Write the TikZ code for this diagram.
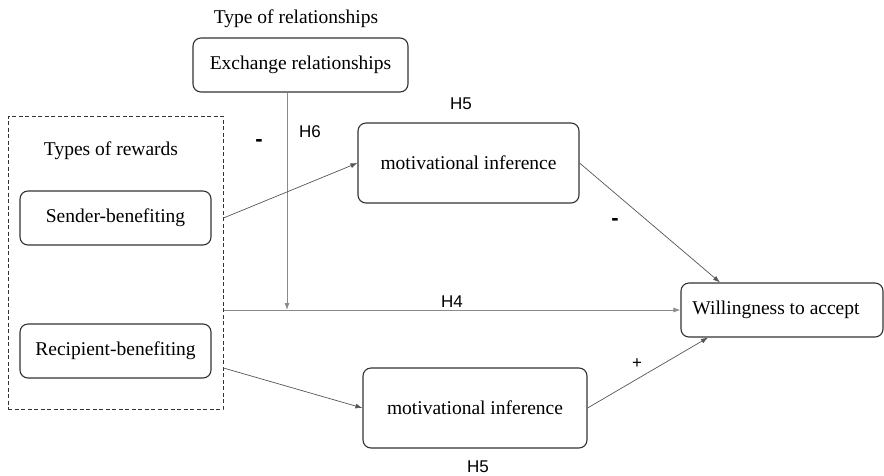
\documentclass[tikz,border=0pt]{standalone}
\usepackage{fontspec}
\setmainfont{Liberation Serif}
\newfontfamily\hfont{Liberation Sans}
\usetikzlibrary{arrows.meta, positioning, calc}
\definecolor{dgInk}{HTML}{333333}
\definecolor{dgLine}{HTML}{555555}
\definecolor{dgGrey}{HTML}{8A8A8A}
\tikzset{
  box/.style={
    draw=dgInk, line width=1.1pt, rounded corners=8pt,
    fill=white, inner sep=0pt, align=center,
    font=\fontsize{19.5}{23}\selectfont, text=black,
    minimum width=191pt, minimum height=54pt
  },
  infbox/.style={box, minimum height=80pt},
  group/.style={draw=dgInk, line width=1pt, dash pattern=on 4pt off 2.5pt,
    minimum width=215pt, minimum height=293pt, inner sep=0pt},
  flow/.style={-{Latex[length=7pt,width=5pt]}, line width=0.7pt, draw=dgLine},
  flowg/.style={-{Latex[length=7pt,width=5pt]}, line width=0.9pt, draw=dgGrey},
  lbl/.style={font=\fontsize{19.5}{23}\selectfont, inner sep=0pt},
  hyp/.style={font=\hfont\fontsize{17}{20}\selectfont, inner sep=0pt},
  sgn/.style={font=\hfont\bfseries\fontsize{22}{24}\selectfont, inner sep=0pt},
}

\begin{document}
\begin{tikzpicture}[x=1pt, y=-1pt]
  \useasboundingbox (0,0) rectangle (884,475);

  % moderator
  \node[lbl] (reltype) at (296,19) {Type of relationships};
  \node[box, minimum width=215pt] (exch) at (300.5,65) {Exchange relationships};

  % rewards group
  \node[group] (rewards) at (115.5,262.5) {};
  \node[lbl] (rewtype) at (111,151) {Types of rewards};
  \node[box] (sender) at (115.5,218) {Sender-benefiting};
  \node[box] (recip)  at (115.5,351) {Recipient-benefiting};

  % mediators and outcome
  \node[infbox, minimum width=221pt] (infA) at (468.5,163) {motivational inference};
  \node[infbox, minimum width=224pt] (infB) at (475,408) {motivational inference};
  \node[box, minimum width=202pt] (willing) at (782,310) {Willingness to accept\hspace{12pt}};

  % paths
  \coordinate (hit) at (287,310);
  \draw[flowg] (exch.south -| hit) -- (hit);
  \draw[flowg] (rewards.east |- willing.west) -- (willing.west);
  \draw[flow] (sender.east -| rewards.east) -- (infA.west);
  \draw[flow] (infA.east) -- ([xshift=-62pt]willing.north);
  \draw[flow] ($(recip.east -| rewards.east)+(0,17)$) -- (infB.west);
  \draw[flow] (infB.east) -- ([xshift=-74pt]willing.south);

  % hypotheses and signs
  \node[hyp] (h6) at (310,132) {H6};
  \node[sgn] (s6) at (259,143) {-};
  \node[hyp] (h5a) at (461,104) {H5};
  \node[hyp] (h4) at (452,302) {H4};
  \node[sgn] (s5a) at (615,222) {-};
  \node[hyp] (s5b) at (637,364) {+};
  \node[hyp] (h5b) at (478,467) {H5};
\end{tikzpicture}
\end{document}
